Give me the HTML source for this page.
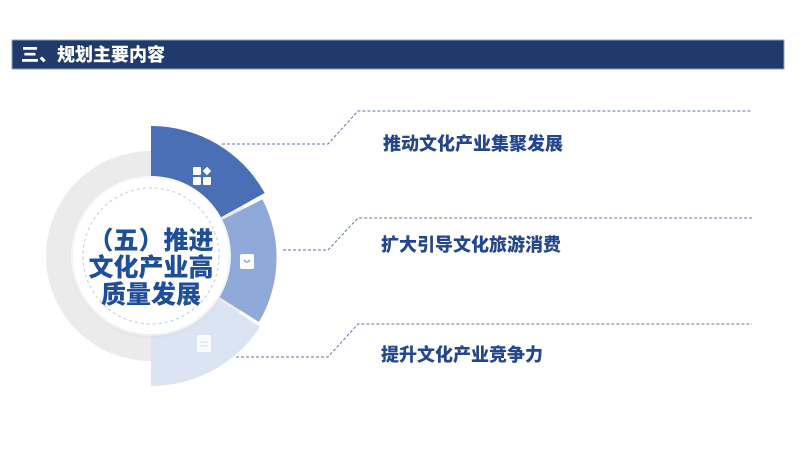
<!DOCTYPE html>
<html><head><meta charset="utf-8"><style>
body{margin:0;width:800px;height:450px;background:#fff;overflow:hidden;font-family:"Liberation Sans","Noto Sans CJK SC",sans-serif;}
</style></head><body>
<svg width="800" height="450" viewBox="0 0 800 450" xmlns="http://www.w3.org/2000/svg" style="position:absolute;left:0;top:0">
<defs><filter id="sh" x="-20%" y="-20%" width="140%" height="140%"><feDropShadow dx="0" dy="1" stdDeviation="2" flood-color="#000" flood-opacity="0.12"/></filter></defs>
<rect x="12" y="40" width="772" height="29" fill="#1f3a6b" stroke="#8aa2cc" stroke-width="1"/>
<text x="21" y="61" fill="#fff" font-size="18" font-weight="900" font-family="Liberation Sans, Noto Sans CJK SC, sans-serif">三、规划主要内容</text>
<circle cx="151" cy="256" r="92.5" fill="none" stroke="#ebebeb" stroke-width="25"/>
<path d="M151,126 A130,130 0 0 1 264.7,193 L221,217.2 A80,80 0 0 0 151,176 Z" fill="#4a6fb5"/>
<path d="M262.4,199.3 A127,127 0 0 1 259,322 L219.6,297.2 A80,80 0 0 0 222.3,219.7 Z" fill="#8fa9d8"/>
<path d="M260,326.8 A130,130 0 0 1 151,386 L151,336 A80,80 0 0 0 218.1,299.6 Z" fill="#dbe4f3"/>
<circle cx="151" cy="256" r="78" fill="#fff" filter="url(#sh)"/>
<circle cx="151" cy="256" r="68" fill="none" stroke="#c6d2ea" stroke-width="1.2" stroke-dasharray="3,3"/>
<g fill="#fff">
<rect x="193" y="167" width="8" height="8" rx="1"/><rect x="193" y="177" width="8" height="8" rx="1"/><rect x="203" y="177" width="8" height="8" rx="1"/>
<rect x="204" y="168" width="6" height="6" transform="rotate(45 207 171)"/>
</g>
<rect x="240" y="254" width="14" height="15" rx="2" fill="#fff"/>
<path d="M244,260 Q247,264 250,260" stroke="#8fa9d8" stroke-width="1.5" fill="none"/>
<rect x="197" y="335" width="14" height="17" rx="2" fill="#fff" opacity="0.85"/>
<g stroke="#dbe4f3" stroke-width="1.3"><line x1="200" y1="342" x2="208" y2="342"/><line x1="200" y1="346" x2="208" y2="346"/></g>
<g font-size="25" font-weight="900" fill="#1f4e9c" text-anchor="middle" font-family="Liberation Sans, Noto Sans CJK SC, sans-serif">
<text x="151" y="249">（五）推进</text>
<text x="151" y="276">文化产业高</text>
<text x="151" y="303">质量发展</text>
</g>
<g fill="none" stroke="#5a76b0" stroke-width="1" stroke-dasharray="3,2">
<polyline points="222,144 328,144 358,111 752,111"/>
<polyline points="283,250 328,250 358,218 752,218"/>
<polyline points="236,357 328,357 358,324 752,324"/>
</g>
<g font-size="18" font-weight="900" fill="#23468c" font-family="Liberation Sans, Noto Sans CJK SC, sans-serif">
<text x="383" y="150">推动文化产业集聚发展</text>
<text x="381" y="251">扩大引导文化旅游消费</text>
<text x="381" y="361">提升文化产业竞争力</text>
</g>
</svg>
</body></html>
